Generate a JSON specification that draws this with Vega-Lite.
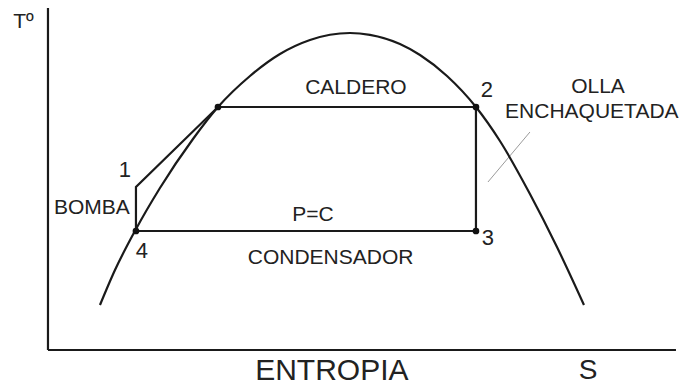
{
  "$schema": "https://vega.github.io/schema/vega-lite/v6.json",
  "width": 681,
  "height": 387,
  "padding": 0,
  "autosize": {"type": "none"},
  "background": "white",
  "config": {"view": {"stroke": null}},
  "datasets": {
    "dome": [
      {"s": 8.28, "T": 13.16}, {"s": 10.67, "T": 23.39}, {"s": 13.85, "T": 34.8},
      {"s": 17.83, "T": 47.37}, {"s": 23.09, "T": 61.7}, {"s": 27.07, "T": 71.05},
      {"s": 32.17, "T": 80.12}, {"s": 36.94, "T": 86.55}, {"s": 41.72, "T": 90.64},
      {"s": 44.9, "T": 92.19}, {"s": 48.09, "T": 92.69}, {"s": 51.27, "T": 92.16},
      {"s": 56.05, "T": 89.47}, {"s": 59.24, "T": 86.26}, {"s": 63.54, "T": 80.12},
      {"s": 68.15, "T": 71.05}, {"s": 71.97, "T": 61.11}, {"s": 76.75, "T": 45.61},
      {"s": 81.05, "T": 30.12}, {"s": 85.35, "T": 13.16}
    ],
    "paths": [
      {"path": "axisT", "k": 1, "s": 0, "T": 100},
      {"path": "axisT", "k": 2, "s": 0, "T": 0},
      {"path": "axisS", "k": 1, "s": 0, "T": 0},
      {"path": "axisS", "k": 2, "s": 100, "T": 0},
      {"path": "cycle", "k": 1, "s": 14.01, "T": 34.8},
      {"path": "cycle", "k": 2, "s": 14.01, "T": 47.66},
      {"path": "cycle", "k": 3, "s": 27.07, "T": 71.05},
      {"path": "cycle", "k": 4, "s": 68.15, "T": 71.05},
      {"path": "cycle", "k": 5, "s": 68.15, "T": 34.8},
      {"path": "cycle", "k": 6, "s": 14.01, "T": 34.8}
    ],
    "leader": [
      {"k": 1, "s": 70.06, "T": 49.12},
      {"k": 2, "s": 76.75, "T": 63.74}
    ],
    "dots": [
      {"s": 14.01, "T": 34.8}, {"s": 27.07, "T": 71.05},
      {"s": 68.15, "T": 71.05}, {"s": 68.15, "T": 34.8}
    ],
    "labels": [
      {"txt": "Tº", "s": -3.9, "T": 95.9, "fs": 21},
      {"txt": "CALDERO", "s": 49.04, "T": 76.61, "fs": 21},
      {"txt": "2", "s": 69.9, "T": 76.02, "fs": 22},
      {"txt": "OLLA", "s": 87.58, "T": 76.9, "fs": 21},
      {"txt": "ENCHAQUETADA", "s": 86.6, "T": 69.59, "fs": 21},
      {"txt": "1", "s": 12.26, "T": 52.63, "fs": 22},
      {"txt": "BOMBA", "s": 7.0, "T": 41.52, "fs": 21},
      {"txt": "4", "s": 14.97, "T": 28.95, "fs": 22},
      {"txt": "P=C", "s": 42.2, "T": 39.47, "fs": 21},
      {"txt": "CONDENSADOR", "s": 45.0, "T": 26.9, "fs": 21},
      {"txt": "3", "s": 70.06, "T": 32.75, "fs": 22},
      {"txt": "ENTROPIA", "s": 45.2, "T": -6.14, "fs": 30},
      {"txt": "S", "s": 85.99, "T": -6.14, "fs": 28}
    ]
  },
  "encoding": {
    "x": {"field": "s", "type": "quantitative", "scale": {"domain": [-7.64, 100.8], "nice": false, "zero": false}, "axis": null},
    "y": {"field": "T", "type": "quantitative", "scale": {"domain": [-10.82, 102.34], "nice": false, "zero": false}, "axis": null}
  },
  "layer": [
    {
      "data": {"name": "leader"},
      "mark": {"type": "line", "color": "#9a9a9a", "strokeWidth": 1},
      "encoding": {"order": {"field": "k", "type": "quantitative"}}
    },
    {
      "data": {"name": "dome"},
      "mark": {"type": "line", "color": "#1a1a1a", "strokeWidth": 2.2, "interpolate": "monotone"},
      "encoding": {}
    },
    {
      "data": {"name": "paths"},
      "mark": {"type": "line", "color": "#1a1a1a", "strokeWidth": 2.2, "strokeJoin": "miter"},
      "encoding": {
        "detail": {"field": "path", "type": "nominal"},
        "order": {"field": "k", "type": "quantitative"}
      }
    },
    {
      "data": {"name": "dots"},
      "mark": {"type": "point", "filled": true, "color": "#111111", "size": 45, "opacity": 1},
      "encoding": {}
    },
    {
      "data": {"name": "labels"},
      "mark": {"type": "text", "font": "Liberation Sans", "color": "#222222", "align": "center", "baseline": "middle"},
      "encoding": {
        "text": {"field": "txt", "type": "nominal"},
        "size": {"field": "fs", "type": "quantitative", "scale": null}
      }
    }
  ]
}
